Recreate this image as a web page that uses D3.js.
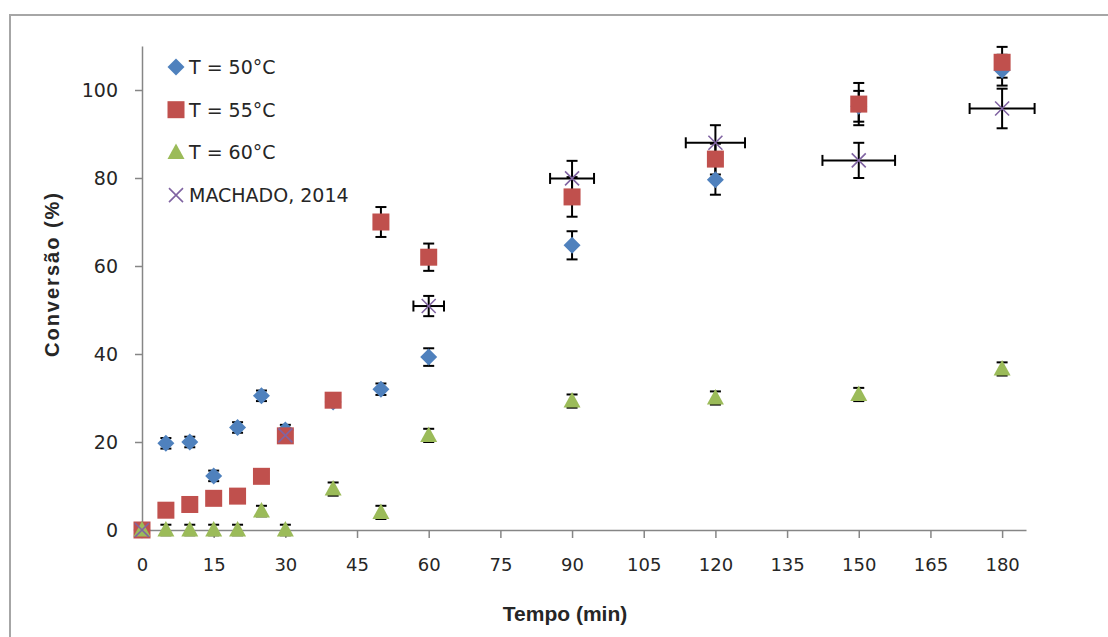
<!DOCTYPE html>
<html><head><meta charset="utf-8">
<script src="https://cdn.jsdelivr.net/npm/d3@7"></script>
<style>html,body{margin:0;padding:0;background:#fff;}svg{display:block;}</style>
</head><body>
<svg id="c" width="1108" height="637"></svg>
<script>
// ---- data ----
const xTicks = [0,15,30,45,60,75,90,105,120,135,150,165,180];
const yTicks = [0,20,40,60,80,100];
const times = [0,5,10,15,20,25,30,40,50,60,90,120,150,180];
const t50 = [0,19.7,20,12.3,23.3,30.5,22.7,29.1,32,39.3,64.7,79.6,96.3,104.5];
const t50Err = [0,1.2,1.2,1.2,1.2,1.2,1.2,1,1.3,2,3.2,3.4,3.5,3.5];
const t55 = [0,4.5,5.8,7.2,7.7,12.2,21.4,29.5,70,62,75.7,84.3,96.8,106.3];
const t55Err = [0,0,0,0,0,0,0,0,3.4,3.1,4.5,3.5,4.8,3.5];
const t60 = [0,0,0,0,0,4.3,0,9.3,4,21.5,29.3,30,30.8,36.6];
const t60Err = [0,1.2,1.2,1.2,1.2,1.2,1.2,1.5,1.5,1.5,1.5,1.5,1.5,1.5];
const machTimes = [0,30,60,90,120,150,180];
const mach = [0,21.5,50.9,79.9,88,84,95.8];
const machYErr = [0,0,2.3,4,4,4,4.5];
const machXErr = [0,0,3.2,4.6,6.2,7.6,6.8];
const seriesNames = ["T = 50°C","T = 55°C","T = 60°C","MACHADO, 2014"];
const colors = ["#4f81bd","#c0504d","#9bbb59","#8064a2"];

const svg = d3.select("#c");
// outer frame
svg.append("rect").attr("x",10).attr("y",15).attr("width",1110).attr("height",640)
  .attr("fill","none").attr("stroke","#a6a6a6").attr("stroke-width",2);

const x = d3.scaleLinear().domain([0,185]).range([142,1026]);
const y = d3.scaleLinear().domain([0,110]).range([530,46]);

// axes
const xAxis = d3.axisBottom(x).tickValues(xTicks).tickSize(8).tickSizeOuter(0);
const gx = svg.append("g").attr("transform","translate(0,530)").call(xAxis);
gx.select(".domain").attr("stroke","#868686").attr("stroke-width",1.5);
gx.selectAll(".tick line").attr("stroke","#868686").attr("stroke-width",1.5);
gx.selectAll(".tick text").attr("dy",0).attr("y",41)
  .style("font-family","DejaVu Sans").style("font-size","18px").attr("fill","#262626");

const yAxis = d3.axisLeft(y).tickValues(yTicks).tickSize(7).tickSizeOuter(0);
const gy = svg.append("g").attr("transform","translate(142,0)").call(yAxis);
gy.select(".domain").attr("stroke","#868686").attr("stroke-width",1.5);
gy.selectAll(".tick line").attr("stroke","#868686").attr("stroke-width",1.5);
gy.selectAll(".tick text").attr("x",-24).attr("dy","0.36em")
  .style("font-family","DejaVu Sans").style("font-size","19px").attr("fill","#262626");

// axis titles
svg.append("text").attr("x",565).attr("y",621).attr("text-anchor","middle")
  .style("font-family","Liberation Sans, Arial").style("font-weight","bold").style("font-size","21px")
  .attr("fill","#262626").text("Tempo (min)");
svg.append("text").attr("transform","translate(59,274) rotate(-90)").attr("text-anchor","middle")
  .style("font-family","Liberation Sans, Arial").style("font-weight","bold").style("font-size","20px")
  .style("letter-spacing","2px").attr("fill","#262626").text("Conversão (%)");

// error bars
const eb = svg.append("g").attr("stroke","#000").attr("stroke-width",2).attr("fill","none");
const cap = 5.5;
function vErr(xs, ys, es){
  xs.forEach((t,i)=>{
    const e = es[i]; if(!e) return;
    const cx = x(t), y1 = y(ys[i]+e), y2 = y(ys[i]-e);
    eb.append("line").attr("x1",cx).attr("x2",cx).attr("y1",y1).attr("y2",y2);
    eb.append("line").attr("x1",cx-cap).attr("x2",cx+cap).attr("y1",y1).attr("y2",y1);
    eb.append("line").attr("x1",cx-cap).attr("x2",cx+cap).attr("y1",y2).attr("y2",y2);
  });
}
function hErr(xs, ys, es){
  xs.forEach((t,i)=>{
    const e = es[i]; if(!e) return;
    const cy = y(ys[i]), x1 = x(t-e), x2 = x(t+e);
    eb.append("line").attr("x1",x1).attr("x2",x2).attr("y1",cy).attr("y2",cy);
    eb.append("line").attr("x1",x1).attr("x2",x1).attr("y1",cy-cap).attr("y2",cy+cap);
    eb.append("line").attr("x1",x2).attr("x2",x2).attr("y1",cy-cap).attr("y2",cy+cap);
  });
}
vErr(times,t50,t50Err);
vErr(times,t55,t55Err);
vErr(times,t60,t60Err);
vErr(machTimes,mach,machYErr);
hErr(machTimes,mach,machXErr);

// marker shapes
function diamond(g,cx,cy){ g.append("path").attr("d",`M${cx},${cy-8.5}L${cx+8.5},${cy}L${cx},${cy+8.5}L${cx-8.5},${cy}Z`).attr("fill",colors[0]); }
function square(g,cx,cy){ g.append("rect").attr("x",cx-8.5).attr("y",cy-8.5).attr("width",17).attr("height",17).attr("fill",colors[1]); }
function triangle(g,cx,cy){ g.append("path").attr("d",`M${cx},${cy-9}L${cx+8.5},${cy+6.5}L${cx-8.5},${cy+6.5}Z`).attr("fill",colors[2]); }
function cross(g,cx,cy){
  g.append("path").attr("d",`M${cx-7},${cy-7}L${cx+7},${cy+7}M${cx+7},${cy-7}L${cx-7},${cy+7}`)
   .attr("stroke",colors[3]).attr("stroke-width",1.6).attr("fill","none");
}
const mk = svg.append("g");
times.forEach((t,i)=>diamond(mk,x(t),y(t50[i])));
times.forEach((t,i)=>square(mk,x(t),y(t55[i])));
times.forEach((t,i)=>triangle(mk,x(t),y(t60[i])));
machTimes.forEach((t,i)=>cross(mk,x(t),y(mach[i])));

// legend
const shapes = [diamond,square,triangle,cross];
const lg = svg.append("g");
seriesNames.forEach((n,i)=>{
  const cy = 67 + i*42.7;
  shapes[i](lg,176,cy);
  lg.append("text").attr("x",189).attr("y",cy).attr("dy","0.36em")
    .style("font-family","DejaVu Sans").style("font-size","19px").attr("fill","#262626").text(n);
});
</script>
</body></html>
